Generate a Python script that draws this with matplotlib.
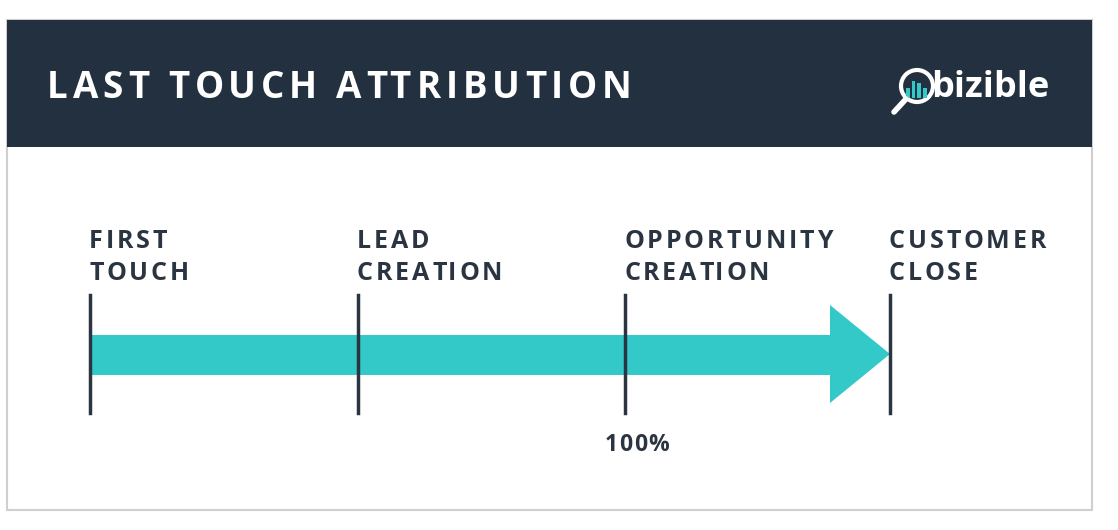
import matplotlib
matplotlib.use("Agg")
import matplotlib.pyplot as plt
from matplotlib.patches import Rectangle, Polygon, Circle
from matplotlib.font_manager import FontProperties
from matplotlib.textpath import text_to_path

stages = ["FIRST\nTOUCH", "LEAD\nCREATION", "OPPORTUNITY\nCREATION", "CUSTOMER\nCLOSE"]
stage_x = [90, 358, 625, 890]
credit = ["", "", "100%", ""]
title = "LAST TOUCH ATTRIBUTION"

NAVY = "#22303f"; TEAL = "#33c9c9"; TXT = "#2b3542"
fig = plt.figure(figsize=(11.18, 5.3), dpi=100)
ax = fig.add_axes([0, 0, 1, 1])
ax.set_xlim(0, 1118); ax.set_ylim(530, 0); ax.axis("off")

def spaced(x, y, s, size, track, color, ha="left"):
    prop = FontProperties(family="Open Sans", weight="bold", size=size)
    k = 100 / 72.0
    def w(t):
        return text_to_path.get_text_width_height_descent(t, prop, ismath=False)[0] * k if t else 0
    total = w(s) + track * (len(s) - 1)
    x0 = x - total / 2 if ha == "center" else x
    for i, ch in enumerate(s):
        ax.text(x0 + w(s[:i]) + track * i, y, ch, color=color, fontproperties=prop,
                va="center", ha="left")

ax.add_patch(Rectangle((7, 20), 1085, 490, facecolor="white", edgecolor="#cfcfcf", lw=1.5))
ax.add_patch(Rectangle((7, 20), 1085, 127, facecolor=NAVY, edgecolor="none"))
spaced(47, 88, title, 26.5, 4.8, "white")
# logo
ax.add_patch(Circle((917, 86), 16, facecolor=NAVY, edgecolor="white", lw=3))
for i, h in enumerate([10, 17, 15, 10]):
    ax.add_patch(Rectangle((906 + i*5.6, 98 - h), 3.8, h, facecolor=TEAL, edgecolor="none"))
ax.plot([906, 894], [99, 112], color="white", lw=4, solid_capstyle="round")
ax.text(931, 88, "bizible", color="white", fontsize=26, fontweight="bold", family="Open Sans", va="center")

# arrow
ax.add_patch(Polygon([(stage_x[0], 335), (830, 335), (830, 305), (stage_x[-1], 354),
                      (830, 403), (830, 375), (stage_x[0], 375)], closed=True,
                     facecolor=TEAL, edgecolor="none"))
for x, lab, c in zip(stage_x, stages, credit):
    ax.plot([x, x], [295, 413], color=TXT, lw=2.5)
    for j, line in enumerate(lab.split("\n")):
        spaced(x - 1, 241 + 33 * j, line, 18, 2.9, TXT)
    if c:
        spaced(x + 12, 445, c, 16.5, 1.5, TXT, ha="center")
fig.savefig("out.png", dpi=100)
